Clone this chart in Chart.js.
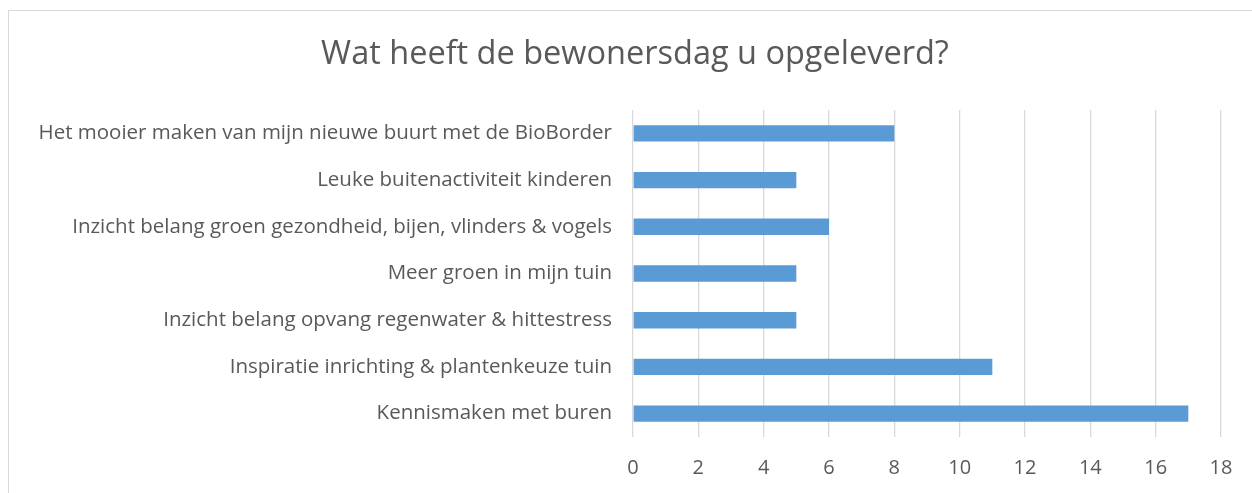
<!DOCTYPE html>
<html>
<head>
<meta charset="utf-8">
<script src="https://cdn.jsdelivr.net/npm/chart.js@4/dist/chart.umd.min.js"></script>
<style>
    html, body { margin: 0; padding: 0; background: #ffffff; overflow: hidden; }
    #frame {
        position: absolute; left: 8px; top: 10px;
        width: 1400px; height: 700px;
        border: 1px solid #d9d9d9; box-sizing: border-box;
    }
    #wrap { position: absolute; left: 0; top: 0; width: 1252px; height: 493px; }
</style>
</head>
<body>
<div id="frame"></div>
<div id="wrap"><canvas id="barChart"></canvas></div>
<script>
// Data (top to bottom as shown)
const chartTitle = 'Wat heeft de bewonersdag u opgeleverd?';
const categories = [
    'Het mooier maken van mijn nieuwe buurt met de BioBorder',
    'Leuke buitenactiviteit kinderen',
    'Inzicht belang groen gezondheid, bijen, vlinders & vogels',
    'Meer groen in mijn tuin',
    'Inzicht belang opvang regenwater & hittestress',
    'Inspiratie inrichting & plantenkeuze tuin',
    'Kennismaken met buren'
];
const counts = [8, 5, 6, 5, 5, 11, 17];
const xTicks = [0, 2, 4, 6, 8, 10, 12, 14, 16, 18];

// title is centred on the outer frame, not on the canvas
const frameTitle = {
    id: 'frameTitle',
    afterDraw(chart) {
        const c = chart.ctx;
        c.save();
        c.font = "32.5px 'Open Sans', 'Noto Sans', sans-serif";
        c.fillStyle = '#595959';
        c.textAlign = 'center';
        c.textBaseline = 'middle';
        c.fillText(chartTitle, 635, 55);
        c.restore();
    }
};

document.addEventListener('DOMContentLoaded', function () {
    Chart.defaults.color = '#595959';
    Chart.defaults.font.family = "'Open Sans', 'Noto Sans', sans-serif";

    const ctx = document.getElementById('barChart').getContext('2d');
    new Chart(ctx, {
        type: 'bar',
        data: {
            labels: categories,
            datasets: [{
                data: counts,
                backgroundColor: '#5b9bd5',
                borderWidth: 0,
                categoryPercentage: 1,
                barPercentage: 0.35
            }]
        },
        options: {
            indexAxis: 'y',
            responsive: true,
            maintainAspectRatio: false,
            animation: false,
            layout: { padding: { left: 0, right: 31, top: 110, bottom: 0 } },
            plugins: {
                legend: { display: false },
                tooltip: { enabled: false },
                title: { display: false }
            },
            scales: {
                x: {
                    min: 0, max: 18,
                    afterBuildTicks: function (scale) {
                        scale.ticks = xTicks.map(v => ({ value: v }));
                    },
                    afterFit: function (scale) { scale.height = 56; },
                    grid: { color: '#d9d9d9', lineWidth: 1.3, drawTicks: false },
                    border: { display: false },
                    ticks: { font: { size: 20 }, padding: 19, color: '#595959' }
                },
                y: {
                    afterFit: function (scale) { scale.width = 633; },
                    grid: { display: false, drawTicks: false },
                    border: { display: false },
                    ticks: { font: { size: 20.5 }, padding: 21, color: '#595959' }
                }
            }
        },
        plugins: [frameTitle]
    });
});
</script>
</body>
</html>
